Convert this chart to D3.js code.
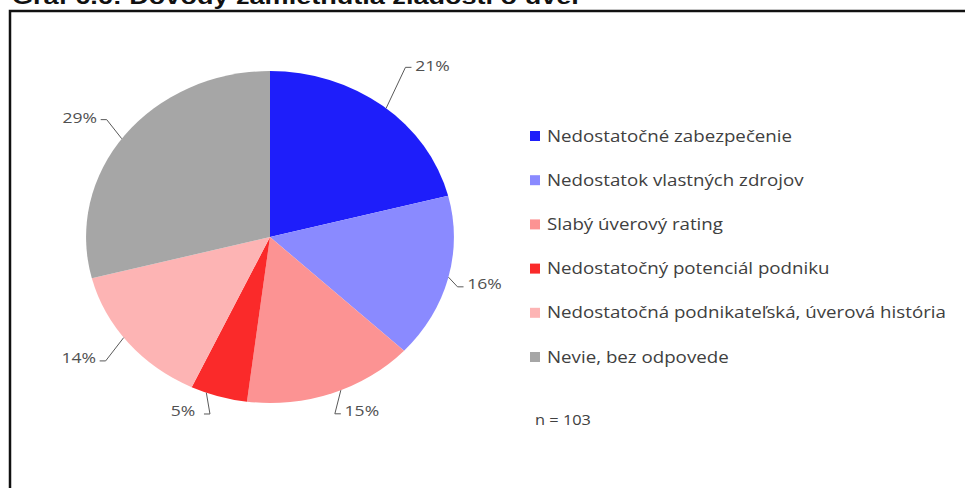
<!DOCTYPE html>
<html><head><meta charset="utf-8">
<script src="https://cdn.jsdelivr.net/npm/d3@7"></script>
<style>body{margin:0;background:#fff;} svg{display:block;}</style>
</head><body>
<svg id="c" width="965" height="488"></svg>
<script>
const title = "Graf 6.6: Dôvody zamietnutia žiadosti o úver";
const categories = ["Nedostatočné zabezpečenie","Nedostatok vlastných zdrojov","Slabý úverový rating","Nedostatočný potenciál podniku","Nedostatočná podnikateľská, úverová história","Nevie, bez odpovede"];
const values = [21,16,15,5,14,29];
const valueLabels = ["21%","16%","15%","5%","14%","29%"];
const colors = ["#1e1efa","#8a8aff","#fc9393","#fa2a2a","#fdb4b4","#a6a6a6"];
const note = "n = 103";
// label placement (angle in degrees from top, radius factor)
const labelAngle = [40.5,103.6,154.5,204.3,235,304.8];
const labelRad = [1.36,1.2,1.16,1.15,1.27,1.26];

const svg = d3.select("#c");
const kx = 1.17; // horizontal stretch of the original raster
svg.append("text").attr("transform","translate(12,4) scale(1.23,1)").attr("font-family","Liberation Sans, Arial").attr("font-weight","bold").attr("font-size",22).attr("fill","#111").text(title);
svg.append("path").attr("d","M10,488V11H965").attr("fill","none").attr("stroke","#111").attr("stroke-width",2.5);

const cx=270, cy=237, r=166, sx=1.108;
const pie = d3.pie().sort(null).value(d=>d)(values);
const arc = d3.arc().innerRadius(0).outerRadius(r);
const g = svg.append("g").attr("transform",`translate(${cx},${cy}) scale(${sx},1)`);
g.selectAll("path").data(pie).join("path").attr("d",arc).attr("fill",(d,i)=>colors[i]);

const toXY=(deg,rad)=>{const a=deg*Math.PI/180;return [cx+Math.sin(a)*rad*sx, cy-Math.cos(a)*rad];};
const lg = svg.append("g");
pie.forEach((d,i)=>{
  const mid=(d.startAngle+d.endAngle)/2*180/Math.PI;
  const ang=labelAngle[i];
  const edge=toXY((mid+ang)/2, r);
  const lp=toXY(ang, r*labelRad[i]);
  const right = lp[0]>cx;
  const hx = right? lp[0]-21 : lp[0]+21;
  const ly = lp[1]+ (lp[1]<cy? 2:3);
  const elbow=[right? hx-6 : hx+6, ly];
  lg.append("path").attr("d",d3.line()([edge,elbow,[hx,ly]])).attr("fill","none").attr("stroke","#595959").attr("stroke-width",1);
  lg.append("text").attr("transform",`translate(${lp[0]},${lp[1]}) scale(${kx},1)`).attr("dy","0.35em").attr("text-anchor","middle")
    .attr("font-family","Open Sans, sans-serif").attr("font-size",15).attr("fill","#505050").text(valueLabels[i]);
});

const leg = svg.append("g").attr("transform","translate(530,136)");
const rowH = 44.2;
categories.forEach((c,i)=>{
  const row = leg.append("g").attr("transform",`translate(0,${i*rowH})`);
  row.append("rect").attr("x",0).attr("y",-5).attr("width",10).attr("height",10).attr("fill",colors[i]);
  row.append("text").attr("transform",`translate(17,0) scale(${kx},1)`).attr("dy","0.35em").attr("font-family","Open Sans, sans-serif").attr("font-size",16).attr("fill","#404040").text(c);
});
svg.append("text").attr("transform",`translate(535,420) scale(${kx},1)`).attr("dy","0.35em").attr("font-family","Open Sans, sans-serif").attr("font-size",14).attr("fill","#404040").text(note);
</script>
</body></html>
